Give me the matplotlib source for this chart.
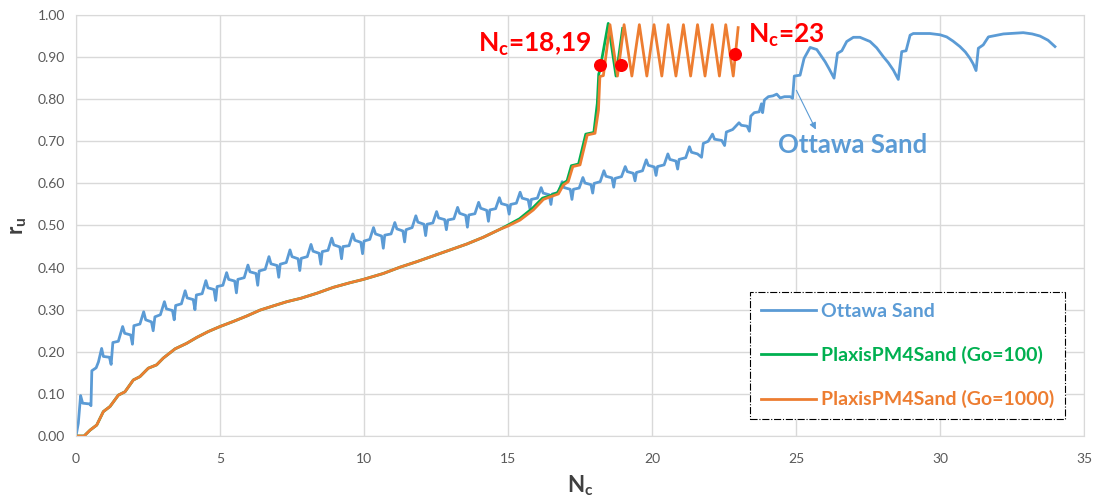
import matplotlib
matplotlib.use("Agg")
import matplotlib.pyplot as plt

plt.rcParams['font.family'] = ['Lato', 'DejaVu Sans']
plt.rcParams['mathtext.fontset'] = 'custom'
plt.rcParams['mathtext.rm'] = 'Lato'
plt.rcParams['mathtext.bf'] = 'Lato:bold'

# -----------------------------------
# Ottawa Sand (lab test)
# -----------------------------------
ottawa_nc = [
    0.00, 0.08, 0.16, 0.23, 0.49, 0.52,
    0.55, 0.70, 0.78, 0.89, 0.95, 1.16, 1.22,
    1.28, 1.47, 1.62, 1.69, 1.90, 1.96,
    2.01, 2.22, 2.35, 2.42, 2.62, 2.68,
    2.74, 2.93, 3.07, 3.14, 3.35, 3.41,
    3.46, 3.66, 3.79, 3.86, 4.07, 4.13,
    4.18, 4.38, 4.51, 4.58, 4.79, 4.85,
    4.90, 5.10, 5.23, 5.30, 5.51, 5.57,
    5.62, 5.84, 5.97, 6.04, 6.25, 6.31,
    6.36, 6.57, 6.70, 6.77, 6.98, 7.04,
    7.09, 7.30, 7.43, 7.50, 7.71, 7.77,
    7.82, 8.03, 8.16, 8.23, 8.44, 8.50,
    8.55, 8.75, 8.88, 8.95, 9.16, 9.22,
    9.27, 9.48, 9.61, 9.68, 9.89, 9.95,
    10.00, 10.20, 10.33, 10.40, 10.61, 10.67,
    10.72, 10.94, 11.07, 11.14, 11.35, 11.41,
    11.46, 11.67, 11.80, 11.87, 12.08, 12.14,
    12.19, 12.39, 12.52, 12.59, 12.80, 12.86,
    12.91, 13.12, 13.25, 13.32, 13.53, 13.59,
    13.64, 13.85, 13.98, 14.05, 14.26, 14.32,
    14.37, 14.57, 14.70, 14.77, 14.98, 15.04,
    15.09, 15.29, 15.42, 15.49, 15.70, 15.76,
    15.81, 16.02, 16.15, 16.22, 16.43, 16.49,
    16.54, 16.75, 16.88, 16.95, 17.16, 17.22,
    17.27, 17.47, 17.60, 17.67, 17.88, 17.94,
    17.99, 18.20, 18.33, 18.40, 18.61, 18.67,
    18.72, 18.94, 19.07, 19.14, 19.35, 19.41,
    19.46, 19.67, 19.80, 19.87, 20.08, 20.14,
    20.19, 20.42, 20.55, 20.62, 20.83, 20.89,
    20.94, 21.17, 21.30, 21.37, 21.58, 21.72,
    21.78, 21.95, 22.10, 22.17, 22.42, 22.52,
    22.58, 22.80, 23.02, 23.10, 23.30, 23.38,
    23.43, 23.55, 23.72, 23.80, 23.84,
    23.90, 24.04, 24.20, 24.33, 24.45, 24.60, 24.80, 24.88,
    24.94, 25.14, 25.28, 25.49, 25.72, 26.01, 26.15, 26.32,
    26.44, 26.59, 26.76, 26.99, 27.22, 27.57, 27.80, 28.03, 28.20, 28.38, 28.55,
    28.67, 28.82, 28.96, 29.07, 29.65, 30.00, 30.23, 30.45, 30.69, 30.88, 31.04, 31.15, 31.25,
    31.33, 31.50, 31.68, 32.20, 32.89, 33.20, 33.47, 33.75, 33.99,
]
ottawa_ru = [
    0.000, 0.030, 0.096, 0.078, 0.076, 0.072,
    0.155, 0.162, 0.176, 0.208, 0.189, 0.187, 0.170,
    0.222, 0.225, 0.260, 0.244, 0.240, 0.218,
    0.262, 0.266, 0.295, 0.276, 0.271, 0.250,
    0.283, 0.288, 0.319, 0.302, 0.298, 0.276,
    0.310, 0.314, 0.345, 0.328, 0.324, 0.300,
    0.335, 0.338, 0.369, 0.352, 0.348, 0.322,
    0.355, 0.358, 0.388, 0.372, 0.368, 0.340,
    0.372, 0.376, 0.406, 0.390, 0.386, 0.358,
    0.392, 0.396, 0.426, 0.409, 0.405, 0.377,
    0.408, 0.412, 0.442, 0.426, 0.421, 0.393,
    0.422, 0.426, 0.455, 0.439, 0.434, 0.408,
    0.438, 0.441, 0.470, 0.454, 0.449, 0.421,
    0.450, 0.452, 0.480, 0.465, 0.460, 0.433,
    0.463, 0.467, 0.495, 0.480, 0.475, 0.446,
    0.477, 0.480, 0.507, 0.492, 0.487, 0.461,
    0.490, 0.495, 0.523, 0.508, 0.503, 0.476,
    0.503, 0.506, 0.533, 0.518, 0.514, 0.490,
    0.513, 0.516, 0.543, 0.529, 0.524, 0.496,
    0.525, 0.528, 0.555, 0.541, 0.536, 0.510,
    0.537, 0.540, 0.566, 0.552, 0.548, 0.527,
    0.550, 0.553, 0.579, 0.565, 0.561, 0.540,
    0.562, 0.565, 0.590, 0.577, 0.573, 0.550,
    0.575, 0.578, 0.604, 0.590, 0.586, 0.562,
    0.586, 0.589, 0.614, 0.601, 0.597, 0.577,
    0.600, 0.604, 0.630, 0.617, 0.613, 0.591,
    0.612, 0.616, 0.640, 0.628, 0.624, 0.606,
    0.626, 0.630, 0.656, 0.643, 0.639, 0.619,
    0.640, 0.644, 0.670, 0.657, 0.653, 0.634,
    0.657, 0.661, 0.687, 0.674, 0.670, 0.662,
    0.695, 0.700, 0.717, 0.705, 0.702, 0.690,
    0.722, 0.728, 0.744, 0.738, 0.736, 0.724,
    0.760, 0.768, 0.770, 0.789, 0.768,
    0.798, 0.806, 0.808, 0.812, 0.803, 0.806, 0.806, 0.802,
    0.855, 0.857, 0.897, 0.923, 0.918, 0.889, 0.872, 0.850,
    0.909, 0.915, 0.937, 0.947, 0.947, 0.937, 0.922, 0.901, 0.887, 0.869, 0.847,
    0.913, 0.915, 0.952, 0.956, 0.956, 0.953, 0.948, 0.938, 0.925, 0.912, 0.897, 0.884, 0.868,
    0.921, 0.929, 0.948, 0.955, 0.958, 0.955, 0.950, 0.940, 0.925,
]

# -----------------------------------
# PlaxisPM4Sand (Go=1000)
# -----------------------------------
pm4_1000_nc = [
    0.00, 0.28, 0.49, 0.72, 0.95, 1.18, 1.47, 1.70, 1.99, 2.22, 2.51, 2.80,
    3.03, 3.44, 3.84, 4.19, 4.59, 5.00, 5.46, 5.93, 6.39, 6.85, 7.32, 7.80,
    8.36, 8.93, 9.51, 9.98, 10.67, 11.25, 11.83, 12.41, 12.99, 13.57, 14.14,
    14.72, 15.01, 15.42, 15.88, 16.23, 16.46, 16.75, 16.92, 17.09, 17.25,
    17.50, 17.75, 18.02, 18.14, 18.19, 18.31,
    18.54, 18.80, 19.03, 19.30, 19.56, 19.82, 20.07, 20.34, 20.56, 20.83,
    21.09, 21.34, 21.58, 21.84, 22.09, 22.34, 22.56, 22.82, 22.99,
]
pm4_1000_ru = [
    0.000, 0.000, 0.014, 0.026, 0.058, 0.070, 0.097, 0.105, 0.133, 0.141, 0.161, 0.169,
    0.185, 0.207, 0.220, 0.234, 0.248, 0.260, 0.272, 0.285, 0.299, 0.309, 0.319, 0.327,
    0.339, 0.353, 0.364, 0.372, 0.386, 0.401, 0.414, 0.428, 0.442, 0.456, 0.472,
    0.491, 0.499, 0.513, 0.537, 0.562, 0.568, 0.575, 0.596, 0.604, 0.640,
    0.644, 0.715, 0.719, 0.774, 0.854, 0.856,
    0.977, 0.855, 0.977, 0.855, 0.977, 0.855, 0.977, 0.855, 0.977, 0.855,
    0.977, 0.855, 0.977, 0.855, 0.977, 0.855, 0.977, 0.855, 0.970,
]

# -----------------------------------
# PlaxisPM4Sand (Go=100): same path as Go=1000 up to Nc~14.7, then slightly ahead
# -----------------------------------
pm4_100_tail_nc = [
    15.00, 15.40, 15.85, 16.20, 16.43, 16.72, 16.88, 17.05, 17.20, 17.45,
    17.70, 17.98, 18.10, 18.15, 18.18, 18.48, 18.75, 18.98,
]
pm4_100_tail_ru = [
    0.501, 0.516, 0.541, 0.565, 0.570, 0.578, 0.599, 0.606, 0.642, 0.646,
    0.717, 0.721, 0.790, 0.860, 0.866, 0.980, 0.855, 0.968,
]
pm4_100_nc = pm4_1000_nc[:36] + pm4_100_tail_nc
pm4_100_ru = pm4_1000_ru[:36] + pm4_100_tail_ru

# liquefaction markers
marker_nc = [18.19, 18.91, 22.88]
marker_ru = [0.881, 0.881, 0.907]

blue = '#5b9bd5'
orange = '#ed7d31'
green = '#00b050'

fig, ax = plt.subplots(figsize=(10.95, 5.03), dpi=100)
fig.subplots_adjust(left=0.0694, right=0.990, bottom=0.1332, top=0.9702)

ax.plot(ottawa_nc, ottawa_ru, color=blue, lw=2, label='Ottawa Sand')
ax.plot(pm4_100_nc, pm4_100_ru, color=green, lw=2, label='PlaxisPM4Sand (Go=100)')
ax.plot(pm4_1000_nc, pm4_1000_ru, color=orange, lw=2, label='PlaxisPM4Sand (Go=1000)')
ax.scatter(marker_nc, marker_ru, color='red', s=70, zorder=5)

ax.set_xlim(0, 35)
ax.set_ylim(0, 1.0)
ax.set_xticks(range(0, 36, 5))
ax.set_yticks([i / 10 for i in range(11)])
ax.set_yticklabels(['%.2f' % (i / 10) for i in range(11)])
ax.tick_params(length=0, colors='#595959', labelsize=10)
ax.tick_params(axis='x', pad=12)
ax.tick_params(axis='y', pad=8)
ax.grid(True, color='#d9d9d9', lw=1)
ax.set_axisbelow(True)
for s in ax.spines.values():
    s.set_color('#d9d9d9')

ax.set_ylabel(r'$\mathbf{r_u}$', fontsize=16, color='#404040', labelpad=6)
ax.set_xlabel(r'$\mathbf{N_c}$', fontsize=16, color='#404040', labelpad=6)

ax.text(13.95, 0.93, r'$\mathbf{N_c}$=18,19', color='red', fontsize=19,
        fontweight='bold', ha='left', va='center')
ax.text(23.33, 0.952, r'$\mathbf{N_c}$=23', color='red', fontsize=19,
        fontweight='bold', ha='left', va='center')
ax.annotate('', xy=(25.73, 0.722), xytext=(24.97, 0.827),
            arrowprops=dict(arrowstyle='-|>', color=blue, lw=0.8, mutation_scale=10))
ax.text(24.38, 0.691, 'Ottawa Sand', color=blue, fontsize=18.5, fontweight='bold',
        ha='left', va='center')

leg = ax.legend(loc='upper left', bbox_to_anchor=(0.669, 0.342), frameon=True,
                fancybox=False, framealpha=1, edgecolor='black',
                labelcolor='linecolor', prop={'weight': 'bold', 'size': 14},
                handlelength=2.8, handletextpad=0.3, labelspacing=1.35,
                borderpad=0.55, borderaxespad=0)
leg.get_frame().set_linestyle('-.')
leg.get_frame().set_linewidth(0.8)

plt.savefig('out.png', dpi=100)
